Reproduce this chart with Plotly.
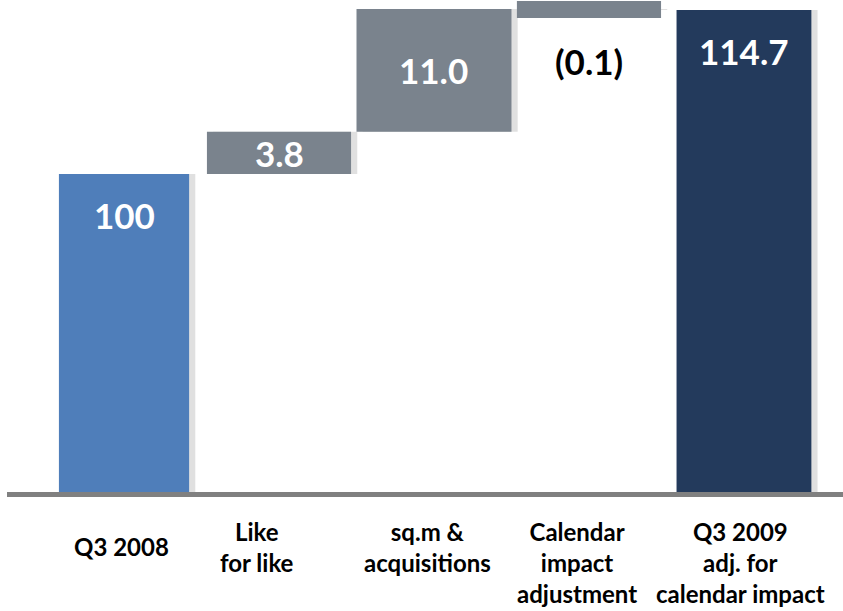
import plotly.graph_objects as go

# ---- data ----
categories = ["Q3 2008", "Like for like", "sq.m & acquisitions",
              "Calendar impact adjustment", "Q3 2009 adj. for calendar impact"]
tick_text = ["Q3 2008", "Like<br>for like", "sq.m &<br>acquisitions",
             "Calendar<br>impact<br>adjustment", "Q3 2009<br>adj. for<br>calendar impact"]
start_value = 100.0
changes = [3.8, 11.0, -0.1]
end_value = 114.7
kinds = ["total", "delta", "delta", "delta", "total"]

# ---- derived bar geometry (from data) ----
values = [start_value] + changes + [end_value]
bases = []
running = 0.0
for k, v in zip(kinds, values):
    if k == "total":
        bases.append(0.0)
        running = v
    else:
        bases.append(running)
        running += v

def fmt(v, i):
    if i == 0:
        return f"{v:.0f}"
    s = f"{abs(v):.1f}"
    return f"({s})" if v < 0 else s

labels = [fmt(v, i) for i, v in enumerate(values)]

# ---- styles ----
colors = ["#4F7EBA", "#7A838D", "#7A838D", "#7A838D", "#233A5C"]
widths = [0.84, 0.93, 1.0, 0.93, 0.87]
label_xshift = [-3, -22, -6, -12, -3]
FONT = "Lato, 'Open Sans', sans-serif"

x = list(range(len(categories)))
y_lo, y_hi = 71.5, 115.6

fig = go.Figure()

# soft shadow to the right of each bar
fig.add_trace(go.Bar(
    x=x, y=values, base=bases, width=widths,
    offset=[-w / 2 + 0.04 for w in widths],
    marker=dict(color="rgba(0,0,0,0.12)", line=dict(width=0)),
    hoverinfo="skip", showlegend=False))

line_w = [0, 0, 0, 16, 0]
fig.add_trace(go.Bar(
    x=x, y=values, base=bases,
    width=[w - lw / 155.0 for w, lw in zip(widths, line_w)],
    marker=dict(color=colors, line=dict(color=colors, width=line_w)),
    showlegend=False))

# value labels
text_pos = []
for i, (b, v, k) in enumerate(zip(bases, values, kinds)):
    top = b + max(v, 0)
    if k == "total":
        text_pos.append((top, -41, "white"))
    elif v > 0:
        text_pos.append((b + v / 2, 0, "white"))
    else:
        text_pos.append((b, -52, "black"))

for i, (yy, shift, col) in enumerate(text_pos):
    fig.add_annotation(x=x[i], y=yy, text=f"<b>{labels[i]}</b>", showarrow=False,
                       yshift=shift, yanchor="middle",
                       font=dict(family=FONT, size=35, color=col))

# category labels
for i, t in enumerate(tick_text):
    single = "<br>" not in t
    fig.add_annotation(x=x[i], y=0, yref="paper", text=f"<b>{t}</b>",
                       showarrow=False, yanchor="top", xshift=label_xshift[i],
                       yshift=-38 if single else -23,
                       font=dict(family=FONT, size=24, color="black"))

fig.update_layout(
    width=843, height=611,
    margin=dict(l=0, r=0, t=0, b=119),
    paper_bgcolor="white", plot_bgcolor="white",
    barmode="overlay",
    xaxis=dict(range=[-0.755, 4.639], domain=[7 / 843, 1],
               showticklabels=False, showgrid=False, zeroline=False,
               showline=True, linecolor="#808080", linewidth=5, ticks=""),
    yaxis=dict(range=[y_lo, y_hi], visible=False),
)

fig.write_html("out.html")
